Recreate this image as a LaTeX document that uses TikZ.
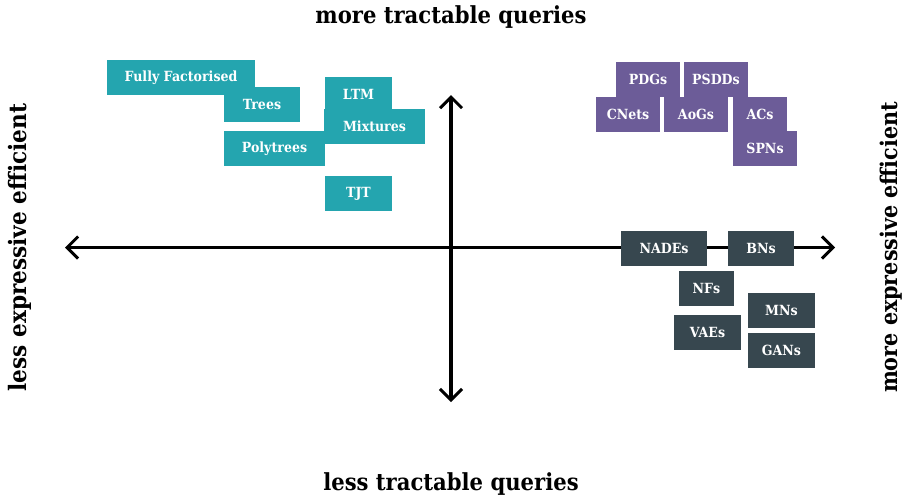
\documentclass[tikz,border=0pt]{standalone}
\usepackage{fontspec}
\setmainfont{DejaVu Serif}[FakeStretch=0.9]
\usetikzlibrary{arrows.meta}
\definecolor{cteal}{RGB}{36,165,175}
\definecolor{cpurple}{RGB}{108,92,152}
\definecolor{cslate}{RGB}{55,71,79}
\tikzset{
  box/.style={minimum height=35pt, inner sep=0pt, text=white, font=\bfseries\fontsize{14}{16}\selectfont, anchor=center},
  tbox/.style={box, fill=cteal},
  pbox/.style={box, fill=cpurple},
  sbox/.style={box, fill=cslate},
  axis/.style={line width=3.5pt, {Straight Barb[length=11pt,width=22pt,line width=3pt]}-{Straight Barb[length=11pt,width=22pt,line width=3pt]}},
  title/.style={font=\bfseries\fontsize{23.5}{27}\selectfont, text=black},
  sidetitle/.style={title, rotate=90}
}
\begin{document}
\begin{tikzpicture}[x=1pt,y=-1pt]
\useasboundingbox (0,0) rectangle (903,499);
\coordinate (L) at (65,247.5);
\coordinate (R) at (835,247.5);
\coordinate (T) at (451,95);
\coordinate (B) at (451,402);
\draw[axis] (L) -- (R);
\draw[axis] (T) -- (B);
% teal
\node[tbox, minimum width=148pt] (ff) at (181,77.5) {Fully Factorised};
\node[tbox, minimum width=76pt] (trees) at (262,104.5) {Trees};
\node[tbox, minimum width=67pt] (ltm) at (358.5,94.5) {LTM};
\node[tbox, minimum width=101pt] (poly) at (274.5,148.5) {Polytrees};
\node[tbox, minimum width=101pt] (mix) at (374.5,126.5) {Mixtures};
\node[tbox, minimum width=67pt] (tjt) at (358.5,193.5) {TJT};
% purple
\node[pbox, minimum width=64pt] (pdgs) at (648,79.5) {PDGs};
\node[pbox, minimum width=64pt] (psdds) at (716,79.5) {PSDDs};
\node[pbox, minimum width=64pt] (cnets) at (628,114.5) {CNets};
\node[pbox, minimum width=64pt] (aogs) at (696,114.5) {AoGs};
\node[pbox, minimum width=64pt] (spns) at (765,148.5) {SPNs};
\node[pbox, minimum width=54pt] (acs) at (760,114.5) {ACs};
% slate
\node[sbox, minimum width=86pt] (nades) at (664,248.5) {NADEs};
\node[sbox, minimum width=66pt] (bns) at (761,248.5) {BNs};
\node[sbox, minimum width=55pt] (nfs) at (706.5,288.5) {NFs};
\node[sbox, minimum width=67pt] (vaes) at (707.5,332.5) {VAEs};
\node[sbox, minimum width=67pt] (mns) at (781.5,310.5) {MNs};
\node[sbox, minimum width=67pt] (gans) at (781.5,350.5) {GANs};
% labels
\node[title] (top) at (451,17) {more tractable queries};
\node[title] (bot) at (451,484) {less tractable queries};
\node[sidetitle, font=\bfseries\fontsize{24}{27}\selectfont] (left) at (20,247.5) {less expressive efficient};
\node[sidetitle, font=\bfseries\fontsize{23}{27}\selectfont] (right) at (891,247.5) {more expressive efficient};
\end{tikzpicture}
\end{document}
